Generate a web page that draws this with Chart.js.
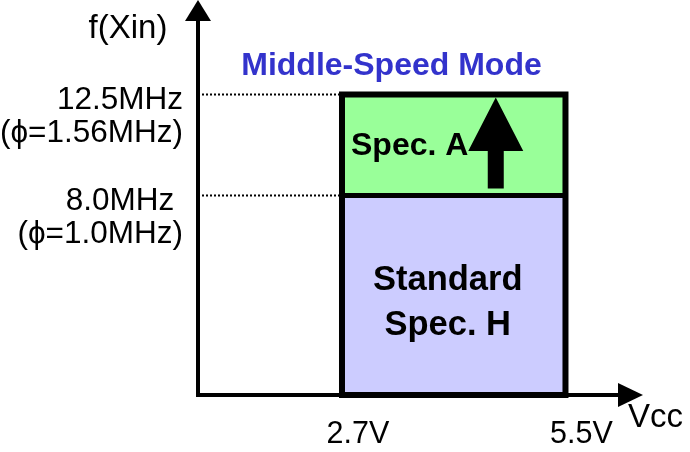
<!DOCTYPE html>
<html>
<head>
<meta charset="utf-8">
<script src="https://cdn.jsdelivr.net/npm/chart.js@4.4.1/dist/chart.umd.min.js"></script>
<style>
  html, body { margin: 0; padding: 0; background: #ffffff; }
  #wrap { width: 690px; height: 452px; }
</style>
</head>
<body>
<div id="wrap"><canvas id="c" width="690" height="452"></canvas></div>
<script>
// ---- data ----
const vccTicks = [2.7, 5.5];                  // supply voltage range (V)
const vccLabels = ['2.7V', '5.5V'];
const freqTicks = [8.0, 12.5];                 // f(Xin) boundaries (MHz)
const freqLabels = [['8.0MHz ', '(\u03D5=1.0MHz)'], ['12.5MHz', '(\u03D5=1.56MHz)']];
const regionNames = [['Standard', 'Spec. H'], ['Spec. A']];
const modeTitle = 'Middle-Speed Mode';
const xAxisName = 'Vcc';
const yAxisName = 'f(Xin)';

// axis extents of the schematic (origin of the drawing)
const X_MIN = 0.896, X_MAX = 6.183;
const Y_MIN = -0.89, Y_MAX = 15.82;

const FONT = "'Liberation Sans', Arial, 'DejaVu Sans', sans-serif";
const GREEN = '#99FF99', LAVENDER = '#CCCCFF', BLUE = '#3333CC';

const vLo = vccTicks[0], vHi = vccTicks[1];
const fStd = freqTicks[0], fA = freqTicks[1];

const datasets = [
  // outline of the operating region
  { data: [{x: vLo, y: Y_MIN}, {x: vLo, y: fA}, {x: vHi, y: fA}, {x: vHi, y: Y_MIN}, {x: vLo, y: Y_MIN}],
    showLine: true, borderColor: '#000', borderWidth: 6, pointRadius: 0, fill: false,
    borderJoinStyle: 'miter', borderCapStyle: 'square', clip: false, order: 0 },
  // divider between Standard and Spec. A
  { data: [{x: vLo, y: fStd}, {x: vHi, y: fStd}],
    showLine: true, borderColor: '#000', borderWidth: 5, pointRadius: 0, fill: false, clip: false, order: 1 },
  // dotted guide lines
  { data: [{x: X_MIN, y: fA}, {x: vLo, y: fA}],
    showLine: true, borderColor: '#000', borderWidth: 2, borderDash: [2, 2], pointRadius: 0, fill: false, order: 2 },
  { data: [{x: X_MIN, y: fStd}, {x: vLo, y: fStd}],
    showLine: true, borderColor: '#000', borderWidth: 2, borderDash: [2, 2], pointRadius: 0, fill: false, order: 3 },
  // Spec. A region (green)
  { data: [{x: vLo, y: fA}, {x: vHi, y: fA}],
    showLine: true, borderWidth: 0, borderColor: 'rgba(0,0,0,0)', backgroundColor: GREEN,
    pointRadius: 0, fill: {value: fStd}, order: 4 },
  // Standard Spec. H region (lavender)
  { data: [{x: vLo, y: fStd}, {x: vHi, y: fStd}],
    showLine: true, borderWidth: 0, borderColor: 'rgba(0,0,0,0)', backgroundColor: LAVENDER,
    pointRadius: 0, fill: 'start', order: 5 }
];

const decorPlugin = {
  id: 'decor',
  afterDraw(chart) {
    const ctx = chart.ctx;
    const a = chart.chartArea;
    const xs = chart.scales.x, ys = chart.scales.y;
    const L = xs.getPixelForValue(vLo), R = xs.getPixelForValue(vHi);
    const T = ys.getPixelForValue(fA), M = ys.getPixelForValue(fStd), B = ys.getPixelForValue(Y_MIN);
    ctx.save();
    ctx.fillStyle = '#000';
    // y axis arrowhead
    ctx.beginPath();
    ctx.moveTo(a.left, a.top - 20);
    ctx.lineTo(a.left - 13, a.top + 1);
    ctx.lineTo(a.left + 13, a.top + 1);
    ctx.closePath();
    ctx.fill();
    // x axis arrowhead
    ctx.beginPath();
    ctx.moveTo(a.right + 23, a.bottom);
    ctx.lineTo(a.right - 2, a.bottom - 12);
    ctx.lineTo(a.right - 2, a.bottom + 12);
    ctx.closePath();
    ctx.fill();

    // upward arrow in Spec. A region
    const cx = L + (R - L) * 0.688;
    const h = M - T;
    const tipY = T + 3, baseY = T + h * 0.56, tailY = T + h * 0.93;
    ctx.beginPath();
    ctx.moveTo(cx, tipY);
    ctx.lineTo(cx + 27.5, baseY);
    ctx.lineTo(cx + 8, baseY);
    ctx.lineTo(cx + 8, tailY);
    ctx.lineTo(cx - 8, tailY);
    ctx.lineTo(cx - 8, baseY);
    ctx.lineTo(cx - 27.5, baseY);
    ctx.closePath();
    ctx.fill();

    // texts
    ctx.textBaseline = 'alphabetic';
    ctx.fillStyle = '#000';
    ctx.font = '33px ' + FONT;
    ctx.textAlign = 'center';
    ctx.fillText(yAxisName, a.left - 70, 38);
    ctx.textAlign = 'left';
    ctx.fillText(xAxisName, a.right + 8, a.bottom + 32);

    ctx.fillStyle = BLUE;
    ctx.font = 'bold 32px ' + FONT;
    ctx.textAlign = 'center';
    ctx.fillText(modeTitle, L + 49.5, T - 19.5);

    ctx.fillStyle = '#000';
    ctx.font = 'bold 32px ' + FONT;
    ctx.textAlign = 'left';
    ctx.fillText(regionNames[1][0], L + 9, T + 60);

    ctx.font = 'bold 34.5px ' + FONT;
    ctx.textAlign = 'center';
    const sx = (L + R) / 2 - 6;
    const sy = (M + B) / 2;
    ctx.fillText(regionNames[0][0], sx, sy - 5);
    ctx.fillText(regionNames[0][1], sx, sy + 40);
    ctx.restore();
  }
};

new Chart(document.getElementById('c'), {
  type: 'scatter',
  data: { datasets },
  options: {
    responsive: false,
    animation: false,
    devicePixelRatio: 1,
    layout: { padding: { top: 20, right: 70, left: 0, bottom: 0 } },
    plugins: { legend: { display: false }, tooltip: { enabled: false } },
    elements: { line: { tension: 0 } },
    scales: {
      x: {
        type: 'linear', min: X_MIN, max: X_MAX,
        grid: { display: false, drawTicks: false },
        border: { display: true, color: '#000', width: 4 },
        afterBuildTicks: (s) => { s.ticks = vccTicks.map(v => ({ value: v })); },
        afterFit: (s) => { s.height = 57; s.paddingLeft = 0; s.paddingRight = 0; },
        ticks: {
          autoSkip: false, maxRotation: 0, minRotation: 0,
          padding: 21, labelOffset: 16, color: '#000',
          font: { family: FONT, size: 30.5 },
          callback: (v, i) => vccLabels[i]
        }
      },
      y: {
        type: 'linear', min: Y_MIN, max: Y_MAX,
        grid: { display: false, drawTicks: false },
        border: { display: true, color: '#000', width: 4 },
        afterBuildTicks: (s) => { s.ticks = freqTicks.map(v => ({ value: v })); },
        afterFit: (s) => { s.width = 198; s.paddingTop = 0; s.paddingBottom = 0; },
        ticks: {
          autoSkip: false, padding: 15, labelOffset: 22, color: '#000',
          font: { family: FONT, size: 31.5, lineHeight: 1.05 },
          callback: (v, i) => freqLabels[i]
        }
      }
    }
  },
  plugins: [decorPlugin]
});
</script>
</body>
</html>
